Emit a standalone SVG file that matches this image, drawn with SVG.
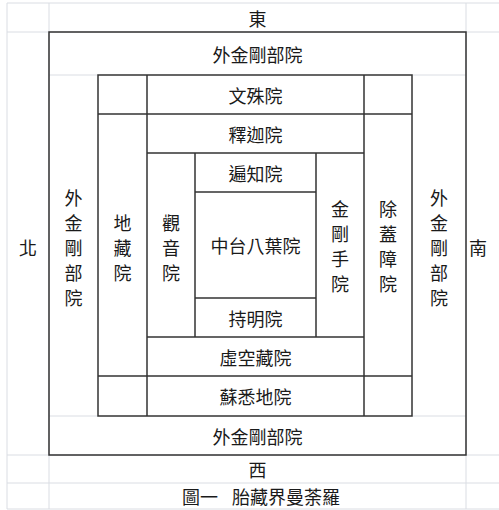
<svg xmlns="http://www.w3.org/2000/svg" width="499" height="510" viewBox="0 0 499 510">
<style>
.grid{stroke:#dadde3;stroke-width:1;fill:none}
.b{stroke:#333;stroke-width:1.5;fill:none}
text{font-family:"Noto Sans CJK TC","Noto Sans CJK SC",sans-serif;font-size:18px;fill:#1a1a1a;text-anchor:middle;dominant-baseline:central}
</style>
<rect width="499" height="510" fill="#fff"/>
<g id="gridlines" class="grid">
<path d="M7 3V509M49 3V509M466 3V509M7 3H499M7 32H499M7 455H499M7 483H499M7 509H499M49 75H98M412 75H466M49 416H98M412 416H466"/>
</g>
<g id="connectors" class="b">
<rect x="49" y="32" width="417" height="423"/>
<rect x="98" y="75" width="314" height="341"/>
<path d="M147 75V416M364 75V416M98 114H412M98 376H412M147 153H364M147 337H364M195 153V337M316 153V337M195 192H316M195 298H316"/>
</g>
<g id="east"><text x="257.5" y="18">東</text></g>
<g id="outer-top"><text x="257.5" y="54">外金剛部院</text></g>
<g id="wenshu"><text x="255.5" y="95">文殊院</text></g>
<g id="shijia"><text x="255.5" y="134">釋迦院</text></g>
<g id="bianzhi"><text x="255.5" y="173">遍知院</text></g>
<g id="center"><text x="255.5" y="245">中台八葉院</text></g>
<g id="chiming"><text x="255.5" y="318">持明院</text></g>
<g id="xukongzang"><text x="255.5" y="357">虛空藏院</text></g>
<g id="suxidi"><text x="255.5" y="396">蘇悉地院</text></g>
<g id="outer-bottom"><text x="257.5" y="436">外金剛部院</text></g>
<g id="west"><text x="257.5" y="469">西</text></g>
<g id="caption"><text x="261" y="496" word-spacing="10">圖一 胎藏界曼荼羅</text></g>
<g id="north"><text x="28" y="247">北</text></g>
<g id="south"><text x="478" y="247">南</text></g>
<g id="outer-left"><text><tspan x="73.5" y="197">外</tspan><tspan x="73.5" y="222">金</tspan><tspan x="73.5" y="247">剛</tspan><tspan x="73.5" y="272">部</tspan><tspan x="73.5" y="297">院</tspan></text></g>
<g id="dizang"><text><tspan x="122.5" y="222">地</tspan><tspan x="122.5" y="247">藏</tspan><tspan x="122.5" y="272">院</tspan></text></g>
<g id="guanyin"><text><tspan x="171" y="222">觀</tspan><tspan x="171" y="247">音</tspan><tspan x="171" y="272">院</tspan></text></g>
<g id="jingangshou"><text><tspan x="340" y="208">金</tspan><tspan x="340" y="233">剛</tspan><tspan x="340" y="258">手</tspan><tspan x="340" y="283">院</tspan></text></g>
<g id="chugaizhang"><text><tspan x="388" y="208">除</tspan><tspan x="388" y="233">蓋</tspan><tspan x="388" y="258">障</tspan><tspan x="388" y="283">院</tspan></text></g>
<g id="outer-right"><text><tspan x="439" y="197">外</tspan><tspan x="439" y="222">金</tspan><tspan x="439" y="247">剛</tspan><tspan x="439" y="272">部</tspan><tspan x="439" y="297">院</tspan></text></g>
</svg>
